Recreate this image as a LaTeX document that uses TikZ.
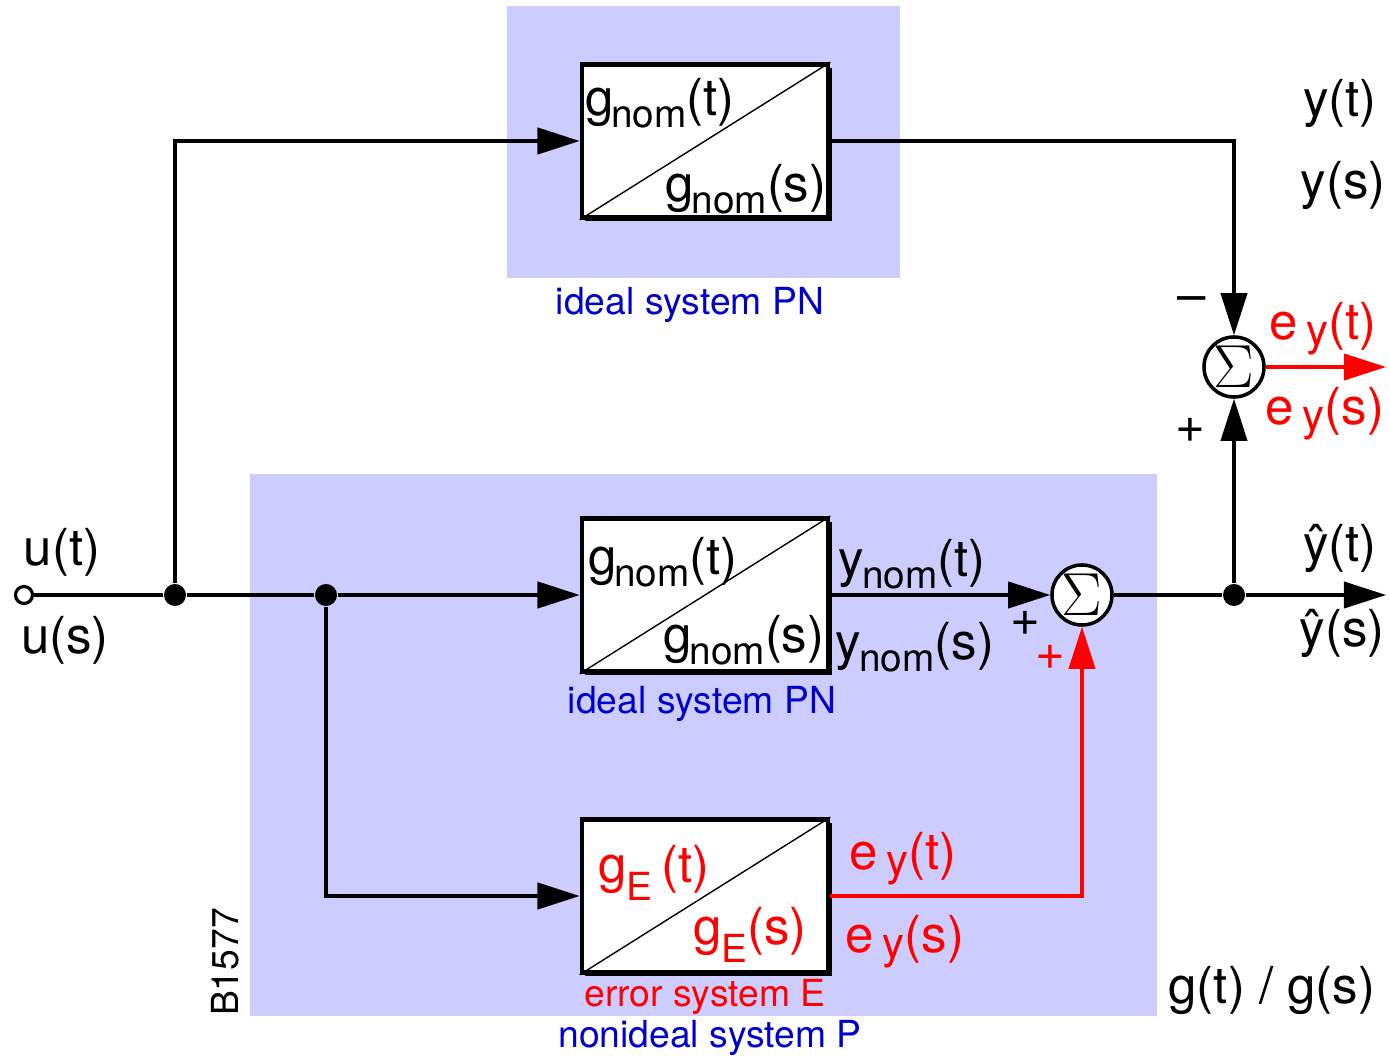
\documentclass[tikz,border=0pt]{standalone}
\usepackage{fontspec}
\setmainfont{TeX Gyre Heros}
\usetikzlibrary{arrows.meta, positioning, shadows}

\definecolor{areablue}{RGB}{204,204,255}
\definecolor{textblue}{RGB}{0,0,204}
\newcommand{\lowsub}[2][3.5pt]{\raisebox{-#1}{\fontsize{11}{12}\selectfont #2}}
\newcommand{\ysub}{\,\raisebox{-1.8pt}{\fontsize{12.5}{14}\selectfont y}}

\begin{document}
\begin{tikzpicture}[x=0.01cm, y=-0.01cm,
  block/.style={draw, line width=1.3pt, fill=white, minimum width=2.46cm, minimum height=1.53cm, inner sep=0pt,
    drop shadow={shadow xshift=1pt, shadow yshift=-1pt, fill=black, opacity=1}},
  sumnode/.style={draw, circle, line width=1pt, fill=white, minimum size=0.6cm, inner sep=0pt},
  dot/.style={circle, fill, inner sep=0pt, minimum size=0.22cm},
  sig/.style={-{Triangle[length=12pt, width=7.5pt]}, line width=0.9pt},
  wire/.style={line width=0.9pt},
  big/.style={font=\fontsize{14.5}{16}\selectfont, inner sep=0pt},
  small/.style={font=\fontsize{10.6}{12}\selectfont, inner sep=0pt}]

\useasboundingbox (0,0) rectangle (1390,1058);

% shaded areas
\fill[areablue] (507,6) rectangle (900,278);
\fill[areablue] (250,474) rectangle (1157,1016);

% blocks
\node[block] (gtop) at (705,141) {};
\node[block] (gmid) at (705,595) {};
\node[block] (gerr) at (705,896) {};
\foreach \b in {gtop, gmid, gerr}
  \draw[line width=0.4pt] (\b.south west) -- (\b.north east);

\node[big] at (660,103) {g\kern-0.6pt\lowsub{nom}(t)};
\node[big] at (746,189) {g\kern-0.6pt\lowsub{nom}(s)};
\node[big] at (663,562) {g\kern-0.6pt\lowsub{nom}(t)};
\node[big] at (744,640) {g\kern-0.6pt\lowsub{nom}(s)};
\node[big, red] at (654,873) {g\lowsub[5pt]{E}\,(t)};
\node[big, red] at (750,935) {g\lowsub[5pt]{E}(s)};

% sums, branch points, ends
\node[draw, circle, wire, fill=white, minimum size=0.17cm, inner sep=0pt] (uin) at (24,595) {};
\node[dot] (d1) at (175,595) {};
\node[dot] (d2) at (326,595) {};
\node[dot] (d3) at (1234,595) {};
\node[sumnode] (smid) at (1082,595) {\fontsize{18}{20}\selectfont$\Sigma$};
\node[sumnode] (serr) at (1234,367) {\fontsize{18}{20}\selectfont$\Sigma$};
\coordinate (yend) at (1386,595);
\coordinate (eend) at (1386,367);

% connections
\draw[wire] (uin) -- (d1) -- (d2);
\draw[sig] (d2) -- (gmid.west);
\draw[sig] (d1) |- (gtop.west);
\draw[sig] (d2) |- (gerr.west);
\draw[sig] (gmid.east) -- (smid.west);
\draw[sig, red] (gerr.east) -| (smid.south);
\draw[wire] (smid.east) -- (d3);
\draw[sig] (d3) -- (yend);
\draw[sig] (d3) -- (serr.south);
\draw[sig] (gtop.east) -| (serr.north);
\draw[sig, red] (serr.east) -- (eend);

% signal labels
\node[big] at (62,552) {u(t)};
\node[big] at (65,640) {u(s)};
\node[big] at (1340,103) {y(t)};
\node[big] at (1343,185) {y(s)};
\node[big] at (1192,305) {\textendash};
\node[big] at (1190,430) {+};
\node[big, red] at (1323,329) {e\ysub(t)};
\node[big, red] at (1325,414) {e\ysub(s)};
\node[big] at (1340,548) {ŷ(t)};
\node[big] at (1342,633) {ŷ(s)};
\node[big] at (912,564) {y\kern-0.6pt\lowsub{nom}(t)};
\node[big] at (915,647) {y\kern-0.6pt\lowsub{nom}(s)};
\node[big] at (1025,623) {+};
\node[big, red] at (1050,657) {+};
\node[big, red] at (903,859) {e\ysub(t)};
\node[big, red] at (905,942) {e\ysub(s)};
\node[big] at (1272,990) {g(t) / g(s)};

% area labels
\node[small, textblue] at (690,305) {ideal system PN};
\node[small, textblue] at (702,704) {ideal system PN};
\node[small, red] at (705,997) {error system E};
\node[small, textblue] at (710,1038) {nonideal system P};
\node[small, rotate=90] at (225,962) {B1577};
\end{tikzpicture}
\end{document}
